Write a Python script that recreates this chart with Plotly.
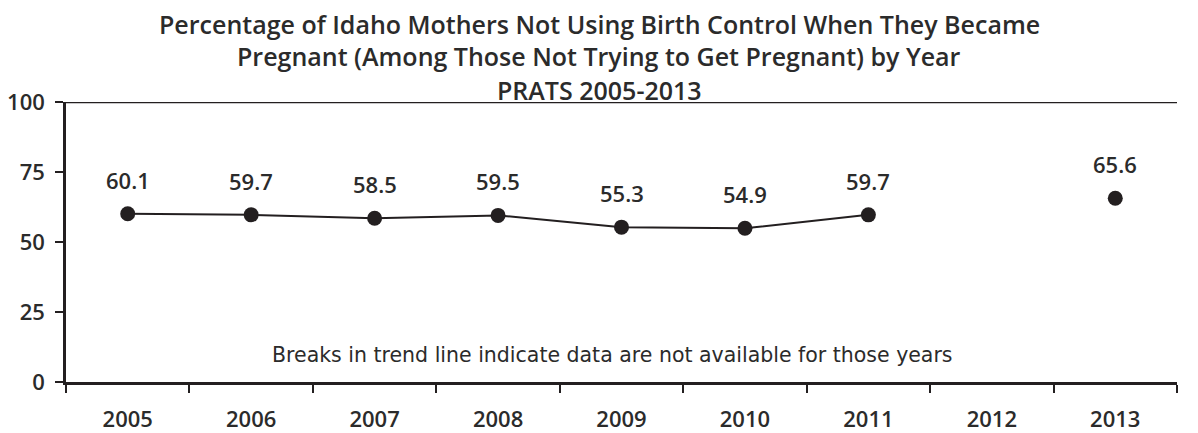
import plotly.graph_objects as go

years = ["2005", "2006", "2007", "2008", "2009", "2010", "2011", "2012", "2013"]
values = [60.1, 59.7, 58.5, 59.5, 55.3, 54.9, 59.7, None, 65.6]
y_ticks = [0, 25, 50, 75, 100]
title_lines = [
    "Percentage of Idaho Mothers Not Using Birth Control When They Became",
    "Pregnant (Among Those Not Trying to Get Pregnant) by Year",
    "PRATS 2005-2013",
]
note = "Breaks in trend line indicate data are not available for those years"

INK = "#231f20"
TXT = "#2b2b2b"
FONT = "Open Sans"

fig = go.Figure()
fig.add_trace(go.Scatter(
    x=years, y=values, mode="lines+markers",
    line=dict(color=INK, width=2),
    marker=dict(color=INK, size=15),
    connectgaps=False, hoverinfo="skip", showlegend=False,
))

annotations = []
for i, v in enumerate(values):
    if v is None:
        continue
    annotations.append(dict(
        x=i, y=v, xref="x", yref="y", text=f"{v:.1f}", showarrow=False,
        yshift=34, font=dict(family=FONT, size=22, color=TXT, weight=600),
    ))

title_y = [1.280, 1.164, 1.043]
for t, yy in zip(title_lines, title_y):
    annotations.append(dict(
        x=0.48, y=yy, xref="paper", yref="paper", text=t, showarrow=False,
        xanchor="center", yanchor="middle", borderpad=0,
        font=dict(family=FONT, size=25, color=TXT, weight=600),
    ))

annotations.append(dict(
    x=0.492, y=0.096, xref="paper", yref="paper", text=note, showarrow=False,
    xanchor="center", yanchor="middle",
    font=dict(family="DejaVu Sans", size=20.5, color=TXT),
))

# page body has an 8px margin; compensate so the plot area lands where the reference has it
fig.update_layout(
    width=1190, height=425,
    margin=dict(l=58, r=21, t=94, b=51),
    paper_bgcolor="white", plot_bgcolor="white",
    annotations=annotations,
    shapes=[dict(type="line", xref="paper", yref="y", x0=0, x1=1, y0=100, y1=100,
                 line=dict(color=INK, width=2.5), layer="above")],
)
fig.update_xaxes(
    type="category", categoryorder="array", categoryarray=years,
    range=[-0.5, len(years) - 0.5], automargin=False,
    tickson="boundaries", ticks="outside", ticklen=8, tickwidth=2, tickcolor=INK,
    showline=True, linewidth=2.5, linecolor=INK, showgrid=False, zeroline=False,
    ticklabelstandoff=16, tickangle=0,
    tickfont=dict(family=FONT, size=22, color=TXT, weight=600),
)
fig.update_yaxes(
    range=[0, 100], tickvals=y_ticks, ticktext=[str(t) for t in y_ticks],
    automargin=False,
    ticks="outside", ticklen=8, tickwidth=2, tickcolor=INK,
    showline=True, linewidth=2.5, linecolor=INK, showgrid=False, zeroline=False,
    ticklabelstandoff=6,
    tickfont=dict(family=FONT, size=22, color=TXT, weight=600),
)

fig.write_html("out.html")
